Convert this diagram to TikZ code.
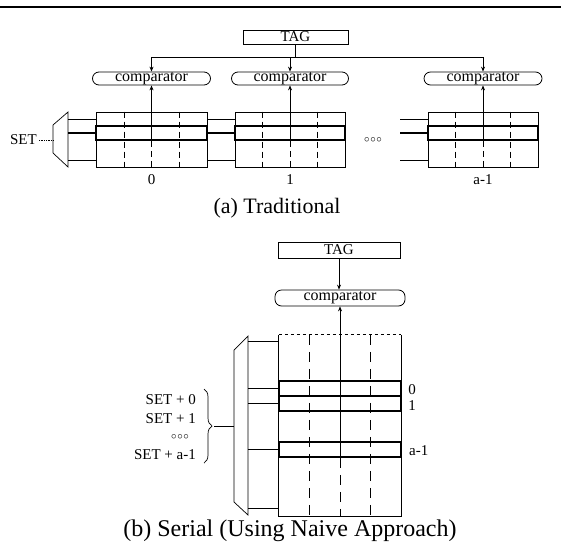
\documentclass[tikz,border=0pt]{standalone}
\usepackage{fontspec}
\setmainfont{Liberation Serif}
\usetikzlibrary{arrows.meta,decorations.pathreplacing}
\begin{document}
\begin{tikzpicture}[x=1pt,y=-1pt,
 thinl/.style={line width=0.7pt},
 thickl/.style={line width=1.8pt},
 colsep/.style={line width=0.7pt, dash pattern=on 6pt off 4pt},
 colsepB/.style={line width=0.7pt, dash pattern=on 10pt off 7pt},
 tagbox/.style={draw, line width=0.8pt, inner sep=0pt, font=\fontsize{15}{15}\selectfont},
 cmpbox/.style={draw, line width=0.8pt, rounded corners=6.5pt, inner sep=0pt, minimum height=13pt, font=\fontsize{16}{16}\selectfont},
 arr/.style={draw, line width=0.8pt, inner sep=0pt},
 hl/.style={draw, line width=1.8pt, inner sep=0pt},
 lbl/.style={inner sep=0pt, font=\fontsize{15}{15}\selectfont},
 dots/.style={inner sep=0pt, font=\fontsize{11}{11}\selectfont},
 tip/.style={-{Stealth[length=5pt,width=4pt]}, line width=0.7pt}
]
\useasboundingbox (0,0) rectangle (561,554);
\coordinate (rl) at (0,7); \coordinate (rr) at (561,7);
\draw[line width=1.2pt] (rl) -- (rr);

% ---------- (a) Traditional ----------
\node[tagbox, minimum width=105pt, minimum height=14pt] (tagA) at (295.5,37) {TAG};
\node[cmpbox, minimum width=118pt] (cA0) at (151.5,78.5) {comparator};
\node[cmpbox, minimum width=117pt] (cA1) at (290,78.5) {comparator};
\node[cmpbox, minimum width=118pt] (cA2) at (483,78.5) {comparator};
\coordinate (busA) at (295.5,57);
\coordinate (busL) at (151.5,57);
\coordinate (busR) at (483,57);
\draw[thinl] (tagA.south) -- (busA);
\draw[thinl] (busL) -- (busR);
\draw[tip] (busL) -- (cA0.north);
\draw[tip] (busA -| cA1.north) -- (cA1.north);
\draw[tip] (busR) -- (cA2.north);

\node[arr, minimum width=111pt, minimum height=55pt] (a0) at (151.5,139.5) {};
\node[arr, minimum width=110pt, minimum height=55pt] (a1) at (290,139.5) {};
\node[arr, minimum width=110pt, minimum height=55pt] (a2) at (483,139.5) {};
\node[hl, minimum width=111pt, minimum height=14pt] (h0) at (151.5,133) {};
\node[hl, minimum width=110pt, minimum height=14pt] (h1) at (290,133) {};
\node[hl, minimum width=110pt, minimum height=14pt] (h2) at (483,133) {};
\foreach \n in {0,1,2} {
  \draw[colsep] ([xshift=-27.6pt]a\n.north) -- ([xshift=-27.6pt]a\n.south);
  \draw[colsep] ([xshift=27.6pt]a\n.north) -- ([xshift=27.6pt]a\n.south);
  \draw[colsep] (h\n.south) -- (a\n.south);
  \draw[tip] (h\n.south) -- (cA\n.south);
}

% multiplexer (a)
\coordinate (mA1) at (68,112);
\coordinate (mA2) at (68,167);
\coordinate (mA3) at (53,153);
\coordinate (mA4) at (53,125);
\draw[thinl] (mA1) -- (mA2) -- (mA3) -- (mA4) -- cycle;
\coordinate (oA1) at (68,119);
\coordinate (oA2) at (68,133);
\coordinate (oA3) at (68,160);
\draw[thinl] (oA1) -- (oA1 -| a0.west);
\draw[thickl] (oA2) -- (h0.west);
\draw[thinl] (oA3) -- (oA3 -| a0.west);
\draw[thinl] (oA1 -| a0.east) -- (oA1 -| a1.west);
\draw[thickl] (h0.east) -- (h1.west);
\draw[thinl] (oA3 -| a0.east) -- (oA3 -| a1.west);
\coordinate (lA) at (400,133);
\draw[thinl] (lA |- oA1) -- (oA1 -| a2.west);
\draw[thickl] (lA) -- (h2.west);
\draw[thinl] (lA |- oA3) -- (oA3 -| a2.west);

\node[lbl, anchor=east] (setA) at (37,140) {SET};
\coordinate (mAin) at (53,140);
\draw[thinl, densely dotted] ([xshift=2pt]setA.east) -- (mAin);
\node[dots] (dotsA) at (373,140) {$\circ\!\circ\!\circ$};

\node[lbl] (l0) at (151.5,180) {0};
\node[lbl] (l1) at (290,180) {1};
\node[lbl] (l2) at (483,180) {a-1};
\node[inner sep=0pt, font=\fontsize{22}{22}\selectfont] (capA) at (277,208) {(a) Traditional};

% ---------- (b) Serial ----------
\node[tagbox, minimum width=122pt, minimum height=16pt] (tagB) at (339,250) {TAG};
\node[cmpbox, minimum width=130pt, minimum height=16pt] (cB) at (340,298) {comparator};
\draw[tip] (tagB.south) -- (tagB.south |- cB.north);

\node[inner sep=0pt, minimum width=122pt, minimum height=181pt] (aB) at (340,425.5) {};
\draw[thinl] (aB.north west) -- (aB.south west) -- (aB.south east) -- (aB.north east);
\draw[thinl, dash pattern=on 3pt off 3pt] (aB.north west) -- (aB.north east);
\node[hl, minimum width=122pt, minimum height=15pt] (r0) at (340,388.5) {};
\node[hl, minimum width=122pt, minimum height=15pt] (r1) at (340,403.5) {};
\node[hl, minimum width=122pt, minimum height=15pt] (rA) at (340,449.5) {};
\draw[colsepB] ([xshift=-30.5pt]aB.north) -- ([xshift=-30.5pt]aB.south);
\draw[colsepB] ([xshift=30.5pt]aB.north) -- ([xshift=30.5pt]aB.south);
\draw[colsepB] (rA.south) -- (aB.south);
\draw[tip] (rA.south) -- (cB.south);

% multiplexer (b)
\coordinate (mB1) at (248,336);
\coordinate (mB2) at (248,515);
\coordinate (mB3) at (234,502);
\coordinate (mB4) at (234,350);
\draw[thinl] (mB1) -- (mB2) -- (mB3) -- (mB4) -- cycle;
\coordinate (oB1) at (248,341);
\coordinate (oB2) at (248,388.5);
\coordinate (oB3) at (248,403.5);
\coordinate (oB4) at (248,449.5);
\coordinate (oB5) at (248,508);
\draw[thinl] (oB1) -- (oB1 -| aB.west);
\draw[thickl] (oB2) -- (r0.west);
\draw[thickl] (oB3) -- (r1.west);
\draw[thickl] (oB4) -- (rA.west);
\draw[thinl] (oB5) -- (oB5 -| aB.west);

\node[lbl] (n0) at (412,390) {0};
\node[lbl] (n1) at (412,406) {1};
\node[lbl, anchor=west] (nA) at (409,451) {a-1};

% brace and set labels
\coordinate (brTop) at (204,389);
\coordinate (brBot) at (204,463);
\draw[thinl, decorate, decoration={brace, amplitude=8pt}] (brTop) -- (brBot);
\coordinate (brT) at (214,426);
\coordinate (mBin) at (234,426);
\draw[thinl] (brT) -- (mBin);
\node[lbl, anchor=east] (s0) at (196,400) {SET + 0};
\node[lbl, anchor=east] (s1) at (196,419) {SET + 1};
\node[dots] (sd) at (180,437) {$\circ\!\circ\!\circ$};
\node[lbl, anchor=east] (sA) at (196,455) {SET + a-1};

\node[inner sep=0pt, font=\fontsize{24}{24}\selectfont] (capB) at (290,531) {(b) Serial (Using Naive Approach)};
\end{tikzpicture}
\end{document}
